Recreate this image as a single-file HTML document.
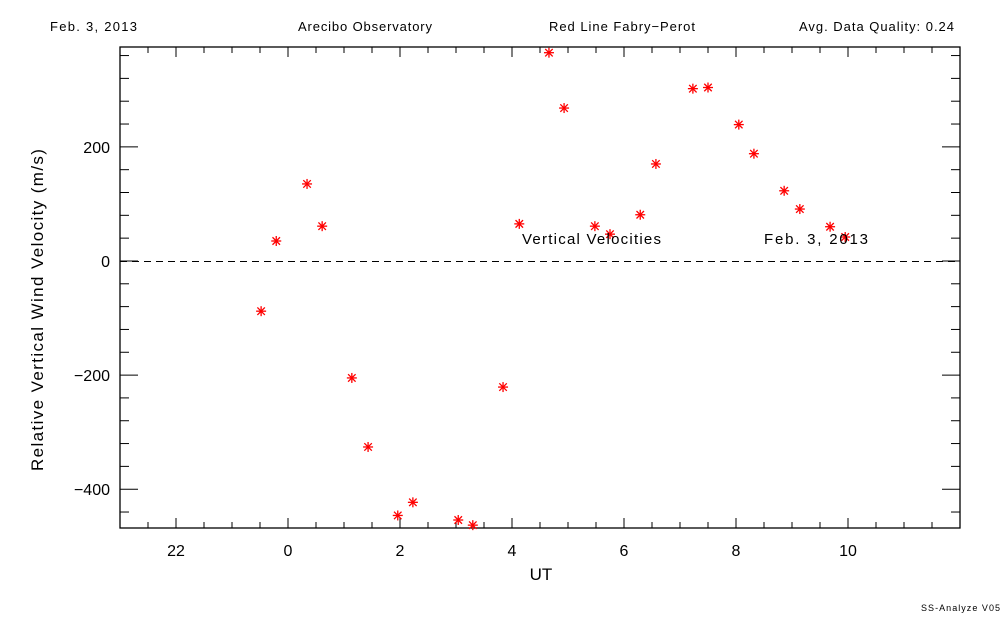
<!DOCTYPE html>
<html><head><meta charset="utf-8"><style>
html,body{margin:0;padding:0;background:#fff;}
svg{display:block;font-family:"Liberation Sans",sans-serif;}
</style></head><body>
<svg id="chart" width="1000" height="625" viewBox="0 0 1000 625" xmlns="http://www.w3.org/2000/svg">
<rect width="1000" height="625" fill="#fff"/>
<text x="50" y="31" font-size="13" textLength="87" lengthAdjust="spacing">Feb. 3, 2013</text>
<text x="298" y="31" font-size="13" textLength="134" lengthAdjust="spacing">Arecibo Observatory</text>
<text x="549" y="31" font-size="13" textLength="146" lengthAdjust="spacing">Red Line Fabry−Perot</text>
<text x="799" y="31" font-size="13" textLength="155" lengthAdjust="spacing">Avg. Data Quality: 0.24</text>
<text x="921" y="611" font-size="9" textLength="79" lengthAdjust="spacing">SS-Analyze V05</text>
<g id="axes"></g>
<g id="marks"></g>
<text x="522" y="244" font-size="15" textLength="139" lengthAdjust="spacing">Vertical Velocities</text>
<text x="764" y="244" font-size="15" textLength="104" lengthAdjust="spacing">Feb. 3, 2013</text>
<text x="541" y="580" font-size="17" text-anchor="middle">UT</text>
<text x="43" y="310" font-size="17" textLength="322" lengthAdjust="spacing" transform="rotate(-90 43 310)" text-anchor="start" dx="-161">Relative Vertical Wind Velocity (m/s)</text>
</svg>
<script>
const hours=[-0.48,-0.21,0.34,0.61,1.14,1.43,1.96,2.23,3.04,3.30,3.84,4.13,4.66,4.93,5.48,5.75,6.29,6.57,7.23,7.50,8.05,8.32,8.86,9.14,9.68,9.95];
const velocities=[-88,35,135,61,-205,-326,-446,-423,-454,-463,-221,65,365,268,61,47,81,170,302,304,239,188,123,91,60,42];
const xTickValues=[-2,0,2,4,6,8,10];
const xTickLabels=["22","0","2","4","6","8","10"];
const yTickValues=[-400,-200,0,200];
const yTickLabels=["−400","−200","0","200"];
const L=120,R=960,T=47,B=528,xMin=-3,xMax=12,yMin=-468,yMax=375;
function xs(v){return L+(v-xMin)/(xMax-xMin)*(R-L);}
function ys(v){return B-(v-yMin)/(yMax-yMin)*(B-T);}
const NS="http://www.w3.org/2000/svg";
const ax=document.getElementById('axes'),mk=document.getElementById('marks');
function el(tag,attrs,parent){const e=document.createElementNS(NS,tag);for(const k in attrs)e.setAttribute(k,attrs[k]);parent.appendChild(e);return e;}
const frame=el('rect',{x:L,y:T,width:R-L,height:B-T,fill:'none',stroke:'#000','stroke-width':1.3},ax);


for(let h=-2.5;h<=11.5;h+=0.5){
  const major=Math.abs(h-Math.round(h/2)*2)<1e-6;
  const len=major?10:6;const x=xs(h);
  const t1=el('line',{x1:x,x2:x,y1:B,y2:B-len,stroke:'#000'},ax);
  
  
  const t2=el('line',{x1:x,x2:x,y1:T,y2:T+len,stroke:'#000'},ax);
  
  
}
for(let v=-440;v<=360;v+=40){
  const major=v%200===0;const len=major?18:9;const y=ys(v);
  const t1=el('line',{x1:L,x2:L+len,y1:y,y2:y,stroke:'#000'},ax);
  
  
  const t2=el('line',{x1:R,x2:R-len,y1:y,y2:y,stroke:'#000'},ax);
  
  
}
xTickValues.forEach((v,i)=>{
  const t=el('text',{x:xs(v),y:556,'font-size':16,'text-anchor':'middle'},ax);
  t.textContent=xTickLabels[i];
  
  
});
yTickValues.forEach((v,i)=>{
  const t=el('text',{x:110,y:ys(v)+6,'font-size':16,'text-anchor':'end'},ax);
  t.textContent=yTickLabels[i];
  
  
});
const zl=el('line',{x1:L,x2:R,y1:Math.round(ys(0))+0.5,y2:Math.round(ys(0))+0.5,stroke:'#000','stroke-dasharray':'7,5','shape-rendering':'crispEdges'},ax);


hours.forEach((h,i)=>{
  const cx=xs(h),cy=ys(velocities[i]);const r=5;
  const g=el('g',{stroke:'#f00','stroke-width':1.3},mk);
  
  
  el('line',{x1:cx-r,x2:cx+r,y1:cy,y2:cy},g);
  el('line',{x1:cx,x2:cx,y1:cy-r,y2:cy+r},g);
  el('line',{x1:cx-r*0.75,x2:cx+r*0.75,y1:cy-r*0.75,y2:cy+r*0.75},g);
  el('line',{x1:cx-r*0.75,x2:cx+r*0.75,y1:cy+r*0.75,y2:cy-r*0.75},g);
});
</script>
</body></html>
